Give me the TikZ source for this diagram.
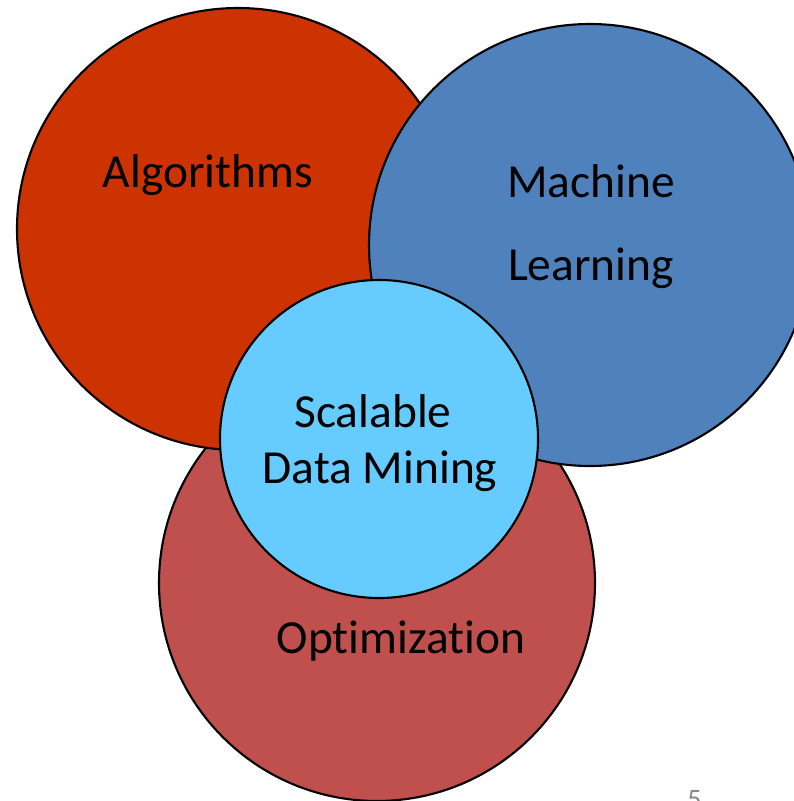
\documentclass[tikz,border=0pt]{standalone}
\usepackage{fontspec}
\setmainfont{Carlito}[Ligatures={NoCommon}]
\usepackage{xcolor}
\usepackage{tikz}
\usetikzlibrary{positioning}
\definecolor{algored}{RGB}{204,51,0}
\definecolor{mlblue}{RGB}{79,129,189}
\definecolor{optired}{RGB}{192,80,77}
\definecolor{sdmblue}{RGB}{102,204,255}
\definecolor{slidegray}{RGB}{137,137,137}

\begin{document}
\begin{tikzpicture}[x=0.02cm, y=-0.02cm,
  set/.style={draw=black, line width=1.2pt},
  setlabel/.style={draw=none, text=black, inner sep=0pt, anchor=base, font=\fontsize{27}{32}\selectfont}]
\useasboundingbox (0,0) rectangle (794,801);
\pgfmathsetmacro{\bigr}{221}
\pgfmathsetmacro{\optr}{218}
\pgfmathsetmacro{\smallr}{159}

\draw[set, fill=optired] (377,583) circle (\optr);
\draw[set, fill=algored] (238,229) circle (\bigr);
\draw[set, fill=mlblue] (590,245) circle (\bigr);
\draw[set, fill=sdmblue] (379,439) circle (\smallr);

\node[setlabel] (algo) at (208,187) {Algorithms};
\node[setlabel] (mach) at (591,197) {Machine};
\node[setlabel] (learn) at (591,280) {Learning};
\node[setlabel] (scal) at (373,427) {Scalable};
\node[setlabel] (dmin) at (380,483) {Data Mining};
\node[setlabel] (opti) at (401,653) {Optimization};

\node[draw=none, text=slidegray, inner sep=0pt, anchor=north west, font=\fontsize{16}{19}\selectfont] (pagenum) at (687,790) {5};
\end{tikzpicture}
\end{document}
